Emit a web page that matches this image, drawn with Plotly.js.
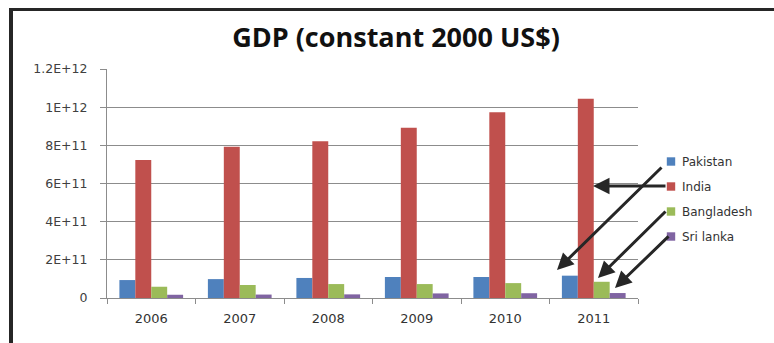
<!DOCTYPE html>
<html>
<head>
<meta charset="utf-8">
<script src="https://cdn.plot.ly/plotly-3.0.1.min.js"></script>
<style>
  html, body { margin: 0; padding: 0; background: #fff; }
  #wrap { position: relative; width: 774px; height: 343px; overflow: hidden; }
  #chart { position: absolute; left: 0; top: 0; width: 774px; height: 343px; }
  #frame { position: absolute; left: 9px; top: 8px; width: 800px; height: 400px;
           border-left: 4px solid #262626; border-top: 3px solid #262626; pointer-events: none; }
  #chart .legendpoints path { transform: translate(29px, 0px) scale(0.7); }
</style>
</head>
<body>
<div id="wrap">
  <div id="chart"></div>
  <div id="frame"></div>
</div>
<script>
const years = ['2006', '2007', '2008', '2009', '2010', '2011'];
const pakistan   = [9.4e10, 9.9e10, 1.05e11, 1.1e11, 1.1e11, 1.17e11];
const india      = [7.23e11, 7.93e11, 8.21e11, 8.92e11, 9.73e11, 1.044e12];
const bangladesh = [5.9e10, 6.8e10, 7.3e10, 7.3e10, 7.8e10, 8.5e10];
const srilanka   = [1.7e10, 1.8e10, 1.9e10, 2.4e10, 2.5e10, 2.6e10];
const seriesNames = ['Pakistan', 'India', 'Bangladesh', 'Sri lanka'];
const seriesColors = ['#4F81BD', '#C0504D', '#9BBB59', '#8064A2'];
const yTickVals = [0, 2e11, 4e11, 6e11, 8e11, 1e12, 1.2e12];
const yTickText = ['0', '2E+11', '4E+11', '6E+11', '8E+11', '1E+12', '1.2E+12'];

const allSeries = [pakistan, india, bangladesh, srilanka];
const traces = allSeries.map((vals, i) => ({
  type: 'bar',
  name: seriesNames[i],
  x: years,
  y: vals,
  legendgroup: 'g' + i,
  marker: { color: seriesColors[i], line: { width: 0 } },
  hoverinfo: 'name+y'
}));

// plot area in pixels: x 107..638, y 69..298
const L = 107, R = 638, T = 69, B = 298;
const px = x => (x - L) / (R - L);
const py = y => (B - y) / (B - T);
function arrow(tipX, tipY, tailX, tailY) {
  return {
    xref: 'paper', yref: 'paper', x: px(tipX), y: py(tipY),
    ax: tailX - tipX, ay: tailY - tipY, text: '', showarrow: true,
    arrowhead: 2, arrowsize: 1.1, arrowwidth: 3, arrowcolor: '#262626'
  };
}

const layout = {
  width: 774, height: 343,
  margin: { l: L, r: 774 - R, t: T, b: 343 - B, pad: 0 },
  paper_bgcolor: '#ffffff', plot_bgcolor: '#ffffff',
  font: { family: 'DejaVu Sans, sans-serif', size: 11, color: '#404040' },
  title: {
    text: '<b>GDP (constant 2000 US$)</b>',
    font: { family: 'Open Sans, sans-serif', size: 27, color: '#111111' },
    x: 396 / 774, xanchor: 'center', y: 1 - 38 / 343, yanchor: 'middle'
  },
  barmode: 'group', bargap: 0.28, bargroupgap: 0,
  xaxis: {
    type: 'category', showgrid: false, showline: true, linecolor: '#8c8c8c', linewidth: 1,
    ticks: 'outside', tickson: 'boundaries', ticklen: 5, tickcolor: '#8c8c8c',
    tickfont: { size: 13, color: '#333333' }, ticklabelstandoff: 8, fixedrange: true
  },
  yaxis: {
    range: [0, 1.2e12], tickvals: yTickVals, ticktext: yTickText,
    showgrid: true, gridcolor: '#8c8c8c', gridwidth: 1,
    showline: true, linecolor: '#8c8c8c', linewidth: 1,
    ticks: 'outside', ticklen: 6, tickcolor: '#8c8c8c',
    tickfont: { size: 12.5, color: '#404040' }, ticklabelstandoff: 10, zeroline: false, fixedrange: true
  },
  showlegend: true,
  legend: {
    x: px(642), xanchor: 'left', y: py(147), yanchor: 'top',
    traceorder: 'grouped', tracegroupgap: 6,
    font: { size: 12, color: '#333333' }, bgcolor: 'rgba(0,0,0,0)', borderwidth: 0
  },
  annotations: [
    arrow(557, 270, 663, 166),
    arrow(593, 186, 667, 186),
    arrow(598, 278, 667, 210),
    arrow(615, 288, 670, 235)
  ]
};

Plotly.newPlot('chart', traces, layout, { displayModeBar: false, staticPlot: true });
</script>
</body>
</html>
